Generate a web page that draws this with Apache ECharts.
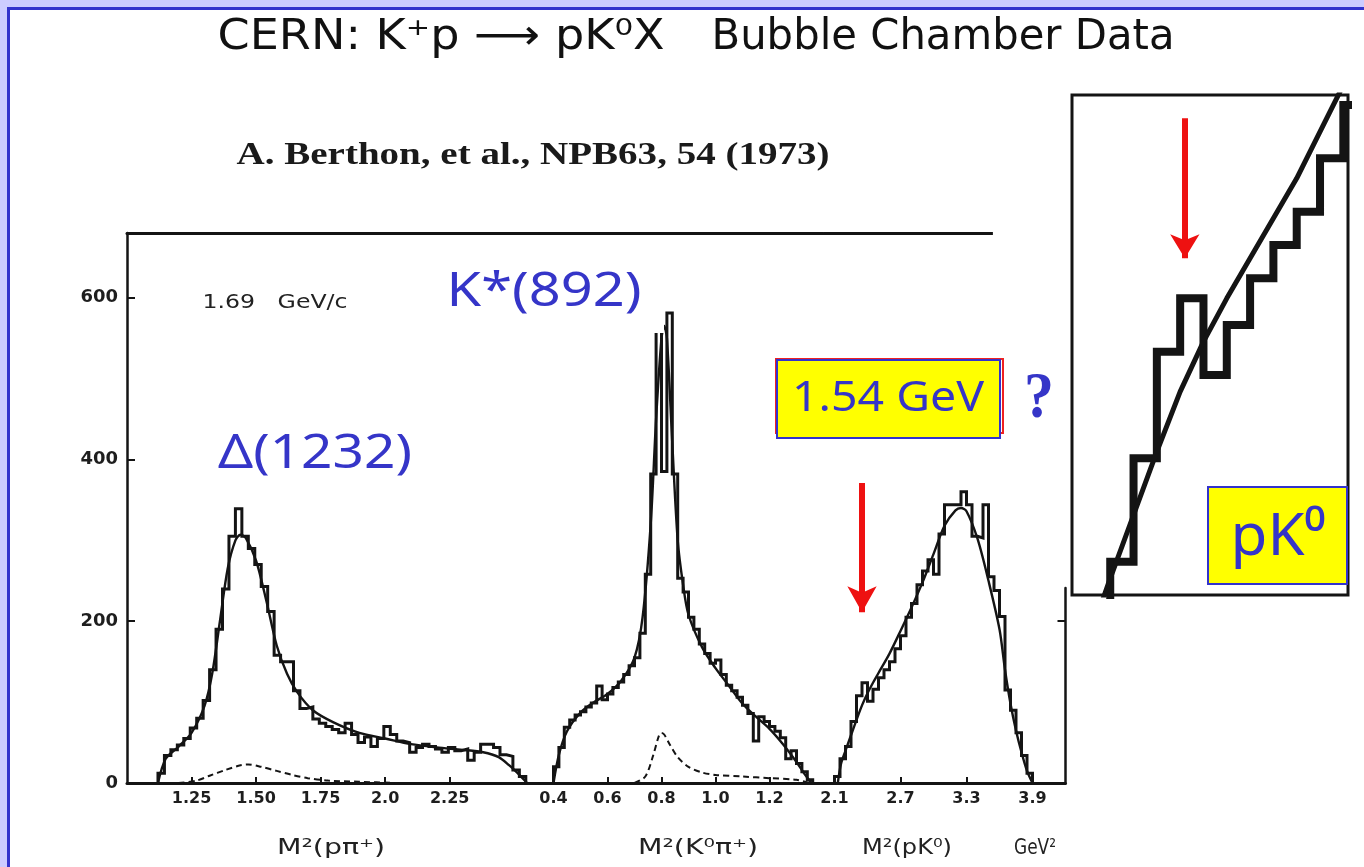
<!DOCTYPE html>
<html>
<head>
<meta charset="utf-8">
<script src="https://cdn.jsdelivr.net/npm/echarts@6/dist/echarts.min.js"></script>
<style>
  html, body { margin: 0; padding: 0; width: 1364px; height: 867px; overflow: hidden; background: #ccccff; }
  #sheet { position: absolute; left: 7px; top: 7px; right: 0; bottom: 0; background: #ffffff;
           border-left: 3px solid #3333cc; border-top: 3px solid #3333cc; }
  #chart { position: absolute; left: 0; top: 0; width: 1364px; height: 867px; }
</style>
</head>
<body>
<div id="sheet"></div>
<div id="chart"></div>
<script>
// ---- M^2(p pi+) : events per 0.025 GeV^2 bin, first bin edge 1.12 ----
const ppiStart = 1.12, ppiBin = 0.025;
const ppiCounts = [12, 34, 41, 47, 55, 68, 80, 102, 140, 190, 240, 305, 339, 305, 290,
  270, 243, 212, 158, 150, 150, 114, 92, 94, 79, 74, 70, 66, 62, 74, 60, 50, 57, 45, 55,
  70, 60, 52, 50, 38, 44, 48, 45, 42, 38, 44, 40, 42, 28, 38, 48, 48, 44, 35, 33, 16, 8];
const ppiFit = [[1.12, 0], [1.15, 30], [1.20, 45], [1.25, 62], [1.30, 95], [1.33, 135],
  [1.36, 200], [1.39, 265], [1.42, 300], [1.44, 307], [1.46, 303], [1.50, 275], [1.54, 225],
  [1.58, 170], [1.62, 135], [1.66, 112], [1.72, 90], [1.80, 75], [1.90, 62], [2.00, 55],
  [2.10, 48], [2.20, 44], [2.30, 41], [2.38, 38], [2.44, 32], [2.48, 22], [2.52, 10], [2.55, 0]];
const ppiBackground = [[1.20, 0], [1.27, 3], [1.32, 9], [1.38, 16], [1.44, 22], [1.47, 23],
  [1.52, 20], [1.58, 15], [1.64, 10], [1.70, 6], [1.78, 3], [1.90, 1.5], [2.05, 0]];
const ppiTicks = [1.25, 1.5, 1.75, 2.0, 2.25];
const ppiTickLabels = ['1.25', '1.50', '1.75', '2.0', '2.25'];

// ---- M^2(K0 pi+) : events per 0.02 GeV^2 bin, first bin edge 0.40 ----
const kpiStart = 0.40, kpiBin = 0.02;
const kpiCounts = [20, 44, 69, 78, 84, 88, 94, 99, 120, 103, 110, 118, 125, 134, 145,
  155, 185, 258, 382, 600, 385, 581, 382, 253, 236, 205, 190, 172, 160, 148, 152, 134,
  121, 114, 106, 96, 86, 52, 82, 76, 70, 64, 56, 30, 40, 24, 14, 4];
const kpiFit = [[0.40, 0], [0.42, 35], [0.45, 64], [0.50, 87], [0.55, 100], [0.60, 110],
  [0.65, 126], [0.70, 155], [0.73, 205], [0.76, 320], [0.78, 450], [0.80, 550], [0.81, 565],
  [0.82, 550], [0.84, 420], [0.86, 300], [0.88, 245], [0.90, 208], [0.95, 168], [1.00, 142],
  [1.05, 120], [1.10, 98], [1.15, 82], [1.20, 67], [1.25, 48], [1.30, 26], [1.33, 11], [1.355, 0]];
const kpiBackground = [[0.70, 0], [0.74, 8], [0.77, 35], [0.79, 58], [0.80, 62], [0.81, 60],
  [0.83, 48], [0.86, 32], [0.90, 20], [0.95, 13], [1.00, 10], [1.10, 8], [1.20, 6], [1.30, 4], [1.35, 0]];
const kpiTicks = [0.4, 0.6, 0.8, 1.0, 1.2];
const kpiTickLabels = ['0.4', '0.6', '0.8', '1.0', '1.2'];

// ---- M^2(p K0) : events per 0.05 GeV^2 bin, first bin edge 2.10 ----
const pkStart = 2.10, pkBin = 0.05;
const pkCounts = [8, 30, 45, 76, 108, 124, 101, 116, 130, 140, 150, 166, 182, 205, 222,
  245, 262, 276, 258, 308, 344, 344, 344, 360, 344, 305, 303, 344, 255, 238, 206, 115,
  90, 62, 34, 12];
const pkFit = [[2.13, 0], [2.16, 24], [2.20, 40], [2.25, 59], [2.30, 78], [2.35, 96],
  [2.40, 111], [2.45, 124], [2.50, 136], [2.60, 160], [2.70, 188], [2.80, 217], [2.90, 248],
  [3.00, 283], [3.10, 318], [3.20, 337], [3.25, 340], [3.30, 336], [3.40, 302], [3.50, 250],
  [3.60, 190], [3.65, 140], [3.70, 98], [3.75, 65], [3.80, 38], [3.85, 15], [3.90, 0]];
const pkTicks = [2.1, 2.7, 3.3, 3.9];
const pkTickLabels = ['2.1', '2.7', '3.3', '3.9'];

const countTicks = [0, 200, 400, 600];
const countTickLabels = ['0', '200', '400', '600'];

// the 1.54 GeV candidate mass squared (1.54^2 ≈ 2.37) marked by arrows
const thetaArrowMain = [[2.35, 371], [2.35, 211]];
const thetaArrowZoom = [[2.36, 178], [2.36, 136]];

const INK = '#141414';
const BLUE = '#3535c8';

// histogram outline: one point per bin left edge, closed down to zero at both ends
function histPoints(start, width, counts) {
  const pts = [[start, 0]];
  counts.forEach((c, i) => pts.push([+(start + i * width).toFixed(4), c]));
  pts.push([+(start + counts.length * width).toFixed(4), 0]);
  return pts;
}

function pickLabel(ticks, labels) {
  return v => {
    const i = ticks.findIndex(t => Math.abs(t - v) < 1e-6);
    return i >= 0 ? labels[i] : '';
  };
}

// horizontal scale so a text run fills a given width (condensed lettering)
const measureCtx = document.createElement('canvas').getContext('2d');
function fitScale(text, font, width) {
  measureCtx.font = font;
  return width / measureCtx.measureText(text).width;
}
function textAt(text, cx, cy, font, width, color) {
  return {
    type: 'text', x: cx, y: cy, z: 100, scaleX: fitScale(text, font, width),
    style: { text: text, font: font, fill: color, align: 'center', verticalAlign: 'middle' }
  };
}

const labelStyle = { color: '#1e1e1e', fontFamily: 'DejaVu Sans', fontWeight: 'bold', fontSize: 16, margin: 8 };

function bottomAxis(gridIndex, min, max, ticks, labels) {
  return {
    type: 'value', gridIndex: gridIndex, position: 'bottom', min: min, max: max,
    axisLine: { show: true, onZero: false, lineStyle: { color: INK, width: 3 } },
    axisTick: { show: true, inside: true, length: 6, customValues: ticks, lineStyle: { color: INK, width: 2 } },
    axisLabel: Object.assign({ show: true, customValues: ticks, formatter: pickLabel(ticks, labels) }, labelStyle),
    splitLine: { show: false }
  };
}
function topLine(gridIndex, min, max) {
  return {
    type: 'value', gridIndex: gridIndex, position: 'top', min: min, max: max,
    axisLine: { show: true, onZero: false, lineStyle: { color: INK, width: 3 } },
    axisTick: { show: false }, axisLabel: { show: false }, splitLine: { show: false }
  };
}
function hiddenY(gridIndex, min, max) {
  return { type: 'value', gridIndex: gridIndex, min: min, max: max, show: false, splitLine: { show: false } };
}

const histStyle = { color: INK, width: 3, join: 'miter' };
const fitStyle = { color: INK, width: 2.4 };
const bgStyle = { color: INK, width: 2, type: [6, 4] };

function histSeries(x, y, pts, extra) {
  return Object.assign({ type: 'line', xAxisIndex: x, yAxisIndex: y, data: pts, step: 'end',
    showSymbol: false, silent: true, lineStyle: histStyle, z: 4 }, extra || {});
}
function fitSeries(x, y, pts, style, extra) {
  return Object.assign({ type: 'line', xAxisIndex: x, yAxisIndex: y, data: pts, smooth: 0.3,
    showSymbol: false, silent: true, lineStyle: style, z: 3 }, extra || {});
}
function arrowMark(seg, width, size) {
  return {
    silent: true, symbol: ['none', 'arrow'], symbolSize: size, label: { show: false },
    lineStyle: { color: '#ee1111', width: width, type: 'solid' },
    data: [[{ coord: seg[0] }, { coord: seg[1] }]]
  };
}

const chart = echarts.init(document.getElementById('chart'), null, { renderer: 'canvas' });

chart.setOption({
  animation: false,
  backgroundColor: 'transparent',
  grid: [
    { left: 127, top: 233, width: 413, height: 550 },
    { left: 540, top: 233, width: 283.5, height: 550 },
    { left: 823.5, top: 233, width: 242, height: 550 },
    { left: 823.5, top: 588, width: 242, height: 195 },
    { left: 1072, top: 95, width: 276, height: 500, show: true, backgroundColor: '#ffffff',
      borderColor: INK, borderWidth: 3 }
  ],
  xAxis: [
    bottomAxis(0, 1.0, 2.6, ppiTicks, ppiTickLabels),
    bottomAxis(1, 0.35, 1.4, kpiTicks, kpiTickLabels),
    bottomAxis(2, 2.0, 4.2, pkTicks, pkTickLabels),
    topLine(0, 1.0, 2.6),
    topLine(1, 0.35, 1.4),
    { type: 'value', gridIndex: 3, min: 2.0, max: 4.2, show: false },
    { type: 'value', gridIndex: 4, min: 2.118, max: 2.71, show: false }
  ],
  yAxis: [
    {
      type: 'value', gridIndex: 0, min: 0, max: 680, position: 'left',
      axisLine: { show: true, lineStyle: { color: INK, width: 2.5 } },
      axisTick: { show: true, inside: true, length: 8, customValues: countTicks, lineStyle: { color: INK, width: 2 } },
      axisLabel: Object.assign({ show: true, customValues: countTicks,
        formatter: pickLabel(countTicks, countTickLabels) }, labelStyle, { fontSize: 18, margin: 9 }),
      splitLine: { show: false }
    },
    hiddenY(1, 0, 680),
    hiddenY(2, 0, 680),
    {
      type: 'value', gridIndex: 3, min: 0, max: 241, position: 'right',
      axisLine: { show: true, lineStyle: { color: INK, width: 2.5 } },
      axisTick: { show: true, inside: true, length: 8, customValues: [200], lineStyle: { color: INK, width: 2 } },
      axisLabel: { show: false }, splitLine: { show: false }
    },
    hiddenY(4, 35, 185)
  ],
  series: [
    histSeries(0, 0, histPoints(ppiStart, ppiBin, ppiCounts)),
    fitSeries(0, 0, ppiFit, fitStyle),
    fitSeries(0, 0, ppiBackground, bgStyle),

    histSeries(1, 1, histPoints(kpiStart, kpiBin, kpiCounts)),
    fitSeries(1, 1, kpiFit, fitStyle),
    fitSeries(1, 1, kpiBackground, bgStyle),

    histSeries(2, 2, histPoints(pkStart, pkBin, pkCounts), {
      markLine: arrowMark(thetaArrowMain, 6, [22, 26])
    }),
    fitSeries(2, 2, pkFit, fitStyle, {
      // upper frame edge continued over this panel
      markLine: {
        silent: true, symbol: 'none', label: { show: false },
        lineStyle: { color: INK, width: 3, type: 'solid' },
        data: [[{ coord: [2.0, 680] }, { coord: [3.54, 680] }]]
      }
    }),

    // magnified rising edge of M^2(p K0)
    histSeries(6, 4, histPoints(pkStart, pkBin, pkCounts), {
      lineStyle: { color: INK, width: 8, join: 'miter' }, z: 6,
      markLine: arrowMark(thetaArrowZoom, 6, [22, 24])
    }),
    fitSeries(6, 4, pkFit, { color: INK, width: 5 }, { z: 6, smooth: false })
  ],
  graphic: [
    textAt('CERN: K\u207Ap \u27F6 pK\u2070X', 441, 38, '42px "DejaVu Sans"', 447, '#111'),
    textAt('Bubble Chamber Data', 943, 38, '42px "DejaVu Sans"', 463, '#111'),
    textAt('A. Berthon, et al., NPB63, 54 (1973)', 533, 156, 'bold 31px "Liberation Serif"', 593, '#1a1a1a'),
    textAt('1.69   GeV/c', 275, 303, '19px "DejaVu Sans"', 145, '#222'),
    textAt('M\u00B2(p\u03C0\u207A)', 331, 848, '22px "DejaVu Sans"', 108, '#222'),
    textAt('M\u00B2(K\u2070\u03C0\u207A)', 698, 848, '22px "DejaVu Sans"', 120, '#222'),
    textAt('M\u00B2(pK\u2070)', 907, 848, '22px "DejaVu Sans"', 90, '#222'),
    textAt('GeV\u00B2', 1035, 848, '22px "DejaVu Sans"', 42, '#222'),

    textAt('\u0394(1232)', 315, 454, '48px "Noto Sans"', 194, BLUE),
    { type: 'rect', z: 99, shape: { x: 440, y: 240, width: 224, height: 93 }, style: { fill: '#ffffff' } },
    textAt('K*(892)', 544, 292, '48px "Noto Sans"', 195, BLUE),

    { type: 'rect', z: 98, shape: { x: 776, y: 359, width: 227, height: 74 },
      style: { fill: 'none', stroke: '#ee2222', lineWidth: 2 } },
    { type: 'rect', z: 99, shape: { x: 777, y: 360, width: 223, height: 78 },
      style: { fill: '#ffff00', stroke: '#3333cc', lineWidth: 2 } },
    textAt('1.54 GeV', 888, 399, '42px "Noto Sans"', 192, BLUE),
    textAt('?', 1039, 400, 'bold 66px "Liberation Serif"', 30, BLUE),

    { type: 'rect', z: 99, shape: { x: 1208, y: 487, width: 139, height: 97 },
      style: { fill: '#ffff00', stroke: '#3333cc', lineWidth: 2 } },
    textAt('pK\u2070', 1278, 538, '58px "Noto Sans"', 95, BLUE)
  ]
});
</script>
</body>
</html>
